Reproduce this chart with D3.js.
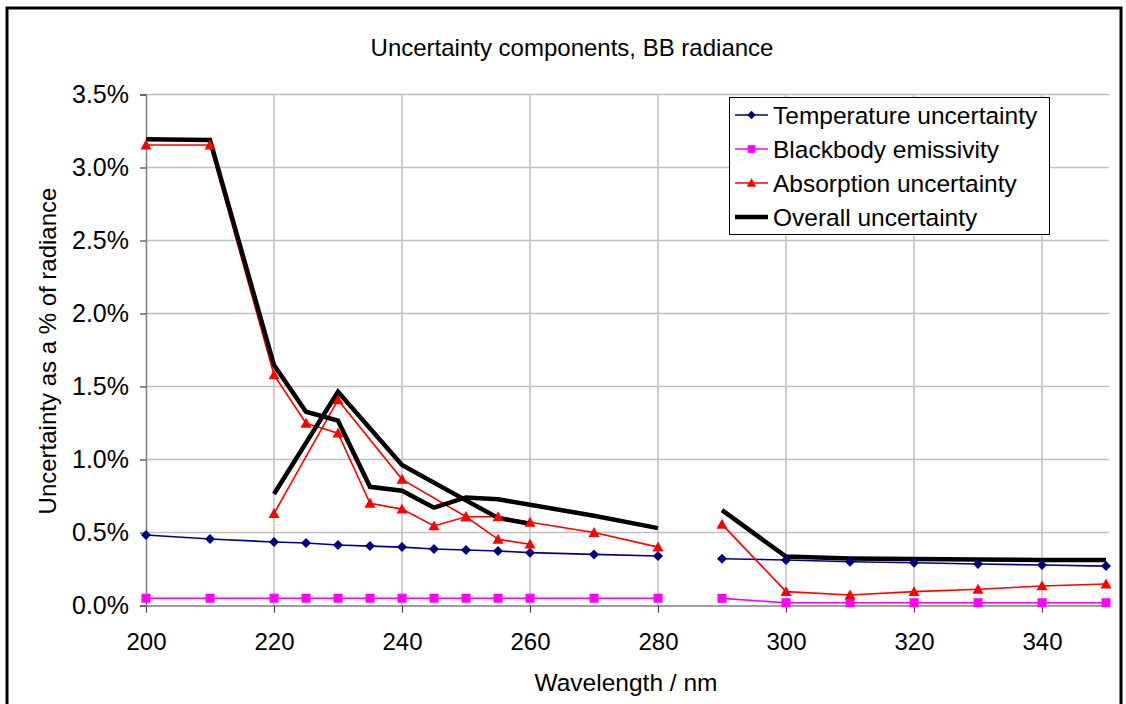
<!DOCTYPE html>
<html><head><meta charset="utf-8">
<script src="https://cdn.jsdelivr.net/npm/d3@7"></script>
<style>body{margin:0;background:#fff;} svg{display:block;font-family:"Liberation Sans",Arial,sans-serif;}</style>
</head><body>
<script>
// Data (uncertainty in % of radiance)
const wlShort = [200,210,220,225,230,235,240,245,250,255,260,270,280];
const tempShort = [0.483,0.455,0.435,0.428,0.414,0.407,0.400,0.387,0.380,0.373,0.362,0.350,0.339];
const emisShort = [0.05,0.05,0.05,0.05,0.05,0.05,0.05,0.05,0.05,0.05,0.05,0.05,0.05];
const absShort = [3.154,3.154,1.579,1.248,1.180,0.700,0.660,0.545,0.608,0.608,0.570,0.500,0.400];
const overallShort = [3.193,3.188,1.647,1.327,1.266,0.813,0.786,0.670,0.740,0.727,0.690,0.615,0.530];

const wlAlt = [220,230,240,250,255,260];
const absAlt = [0.630,1.408,0.864,0.608,0.453,0.420];
const overallAlt = [0.764,1.464,0.963,0.720,0.600,0.560];

const wlLong = [290,300,310,320,330,340,350];
const tempLong = [0.320,0.312,0.300,0.293,0.284,0.277,0.270];
const emisLong = [0.049,0.019,0.019,0.019,0.019,0.019,0.019];
const absLong = [0.556,0.095,0.072,0.095,0.111,0.134,0.147];
const overallLong = [0.653,0.335,0.322,0.318,0.315,0.312,0.311];

const xTicks = [200,220,240,260,280,300,320,340];
const yTicks = [0,0.5,1.0,1.5,2.0,2.5,3.0,3.5];
const seriesNames = ["Temperature uncertainty","Blackbody emissivity","Absorption uncertainty","Overall uncertainty"];
const title = "Uncertainty components, BB radiance";
const xTitle = "Wavelength / nm";
const yTitle = "Uncertainty as a % of radiance";

const W = 1126, H = 704;
const svg = d3.select("body").append("svg").attr("width", W).attr("height", H);

const x = d3.scaleLinear().domain([200,350]).range([146,1106]);
const y = d3.scaleLinear().domain([0,3.5]).range([605.5,94.5]);

// frame
svg.append("rect").attr("x",7).attr("y",8).attr("width",1114).attr("height",720)
  .attr("fill","none").attr("stroke","#000").attr("stroke-width",3);

// gridlines
const g = svg.append("g");
g.selectAll("line.hg").data(yTicks.filter(d=>d>0)).enter().append("line")
  .attr("x1",x(200)).attr("x2",x(350)+3).attr("y1",d=>y(d)).attr("y2",d=>y(d))
  .attr("stroke","#c0c0c0").attr("stroke-width",1.5);
g.selectAll("line.vg").data(xTicks.filter(d=>d>200)).enter().append("line")
  .attr("x1",d=>x(d)).attr("x2",d=>x(d)).attr("y1",y(3.5)).attr("y2",y(0))
  .attr("stroke","#c0c0c0").attr("stroke-width",1.5);

// axes
const xAxis = d3.axisBottom(x).tickValues(xTicks).tickSize(7).tickPadding(20).tickFormat(d3.format("d"));
const xa = svg.append("g").attr("transform",`translate(0,${y(0)})`).call(xAxis);
const yAxis = d3.axisLeft(y).tickValues(yTicks).tickSize(6).tickPadding(11).tickFormat(d=>d.toFixed(1)+"%");
const ya = svg.append("g").attr("transform",`translate(${x(200)},0)`).call(yAxis);
[xa,ya].forEach(a=>{
  a.select(".domain").attr("stroke","#808080").attr("stroke-width",1.5);
  a.selectAll(".tick line").attr("stroke","#404040").attr("stroke-width",1.2);
  a.selectAll(".tick text").attr("fill","#000").style("font-family","'Liberation Sans',Arial,sans-serif");
});
xa.selectAll(".tick text").style("font-size","24px");
ya.selectAll(".tick text").style("font-size","25px");
xa.select(".domain").attr("d",`M${x(200)},0.5H${x(350)+3}`);

// series
const colors = ["#000080","#ff00ff","#ff0000","#000000"];
const line = d3.line().x(d=>x(d[0])).y(d=>y(d[1]));
const zip = (a,b)=>a.map((v,i)=>[v,b[i]]);
const runs = [
  {s:0, pts: zip(wlShort,tempShort)}, {s:0, pts: zip(wlLong,tempLong)},
  {s:1, pts: zip(wlShort,emisShort)}, {s:1, pts: zip(wlLong,emisLong)},
  {s:2, pts: zip(wlShort,absShort)}, {s:2, pts: zip(wlAlt,absAlt)}, {s:2, pts: zip(wlLong,absLong)},
  {s:3, pts: zip(wlShort,overallShort)}, {s:3, pts: zip(wlAlt,overallAlt)}, {s:3, pts: zip(wlLong,overallLong)}
];
const widths = [1.6,1.6,1.6,4.5];
const lg = svg.append("g");
runs.forEach(r=>{
  lg.append("path").attr("d",line(r.pts)).attr("fill","none")
    .attr("stroke",colors[r.s]).attr("stroke-width",widths[r.s]).attr("stroke-linejoin","miter");
});
function marker(sel, s, cx, cy, k){
  k = k||1;
  if(s===0){
    const r=5*k;
    sel.append("path").attr("d",`M${cx},${cy-r}L${cx+r},${cy}L${cx},${cy+r}L${cx-r},${cy}Z`).attr("fill",colors[0]);
  } else if(s===1){
    const r=4.5*k;
    sel.append("rect").attr("x",cx-r).attr("y",cy-r).attr("width",2*r).attr("height",2*r).attr("fill",colors[1]);
  } else if(s===2){
    const r=5.5*k;
    sel.append("path").attr("d",`M${cx},${cy-r}L${cx+r},${cy+r*0.8}L${cx-r},${cy+r*0.8}Z`).attr("fill",colors[2]);
  }
}
const mg = svg.append("g");
runs.forEach(r=>{ if(r.s<3) r.pts.forEach(p=>marker(mg, r.s, x(p[0]), y(p[1]))); });

// titles
svg.append("text").attr("x",572).attr("y",56).attr("text-anchor","middle")
  .style("font-size","24px").text(title);
svg.append("text").attr("x",626).attr("y",691).attr("text-anchor","middle")
  .style("font-size","24.5px").text(xTitle);
svg.append("text").attr("transform","translate(56,351) rotate(-90)").attr("text-anchor","middle")
  .style("font-size","24px").text(yTitle);

// legend
const leg = svg.append("g");
leg.append("rect").attr("x",729.5).attr("y",97.5).attr("width",320).attr("height",137)
  .attr("fill","#fff").attr("stroke","#000").attr("stroke-width",1);
seriesNames.forEach((n,i)=>{
  const cy = 115 + i*34;
  leg.append("line").attr("x1",735).attr("x2",768).attr("y1",cy).attr("y2",cy)
    .attr("stroke",colors[i]).attr("stroke-width",widths[i]);
  marker(leg, i, 751.5, cy, 0.85);
  leg.append("text").attr("x",773).attr("y",cy+8.5).style("font-size","24.5px").text(n);
});
</script>
</body></html>
